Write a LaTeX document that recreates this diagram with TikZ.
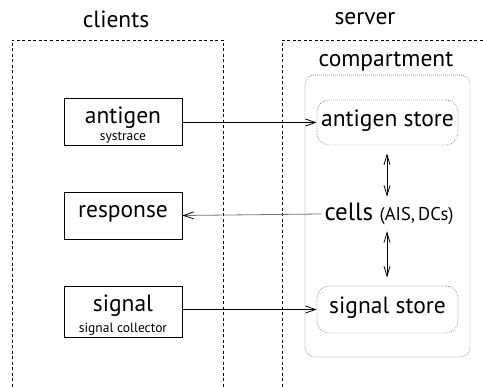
\documentclass[tikz,border=0pt]{standalone}
\usepackage{fontspec}
\setmainfont{PT Sans}
\usetikzlibrary{arrows.meta}
\begin{document}
\begin{tikzpicture}[x=1pt,y=-1pt,
  bigtxt/.style={font=\fontsize{23.5}{25}\selectfont, inner sep=0pt},
  smalltxt/.style={font=\fontsize{13.5}{15}\selectfont, inner sep=0pt},
  clientbox/.style={draw, line width=0.9pt, minimum width=118pt, inner sep=0pt},
  dotline/.style={draw=gray, line width=0.7pt, dash pattern=on 0.7pt off 1.3pt},
  storebox/.style={dotline, rounded corners=12pt, minimum width=141pt, inner sep=0pt},
  zone/.style={draw, line width=0.7pt, dash pattern=on 3pt off 2.5pt},
  tip/.style={-{Straight Barb[length=10pt,width=7pt,color=black]}, line width=0.8pt},
  dtip/.style={{Straight Barb[length=10pt,width=6pt]}-{Straight Barb[length=10pt,width=6pt]}, line width=0.8pt}
]
\useasboundingbox (0,0) rectangle (483,387);
% zones
\draw[zone] (12,387) -- (12,40) -- (223,40) -- (223,387);
\draw[zone] (282,387) -- (282,40) -- (483,40);
\node[bigtxt] (clients) at (116,19) {clients};
\node[bigtxt] (server) at (365,19) {server};
\node[bigtxt] (compartment) at (386,62) {compartment};
\draw[dotline, rounded corners=10pt] (305,75) rectangle (470,357);
% client boxes
\node[clientbox, minimum height=47pt] (antigen) at (123,121.5) {};
\node[bigtxt] (antigentxt) at (123,118) {antigen};
\node[smalltxt] (systrace) at (123,138) {systrace};
\node[clientbox, minimum height=47pt] (response) at (123,215.5) {};
\node[bigtxt] (responsetxt) at (123,214) {response};
\node[clientbox, minimum height=51pt] (signal) at (123,311.5) {};
\node[bigtxt] (signaltxt) at (123,306) {signal};
\node[smalltxt] (collector) at (123,329) {signal collector};
% server
\node[storebox, minimum height=45pt] (astore) at (387.5,122.5) {};
\node[bigtxt] (astoretxt) at (387.5,121) {antigen store};
\node[storebox, minimum height=47pt] (sstore) at (387.5,309.5) {};
\node[bigtxt] (sstoretxt) at (387.5,308) {signal store};
\node[inner sep=3pt, minimum height=34pt] (cells) at (389,214) {\fontsize{25}{27}\selectfont cells \fontsize{18.5}{20}\selectfont(AIS,\,DCs)};
% connectors
\draw[tip] (antigen.east |- astore.west) -- (astore.west);
\draw[tip, draw=gray!90!black] (cells.west) -- (response.east);
\draw[tip] (signal.east |- sstore.west) -- (sstore.west);
\draw[dtip] ([yshift=-8pt]astore.south -| 387,0) -- (cells.north -| 387,0);
\draw[dtip] (cells.south -| 387,0) -- ([yshift=8pt]sstore.north -| 387,0);
\end{tikzpicture}
\end{document}
